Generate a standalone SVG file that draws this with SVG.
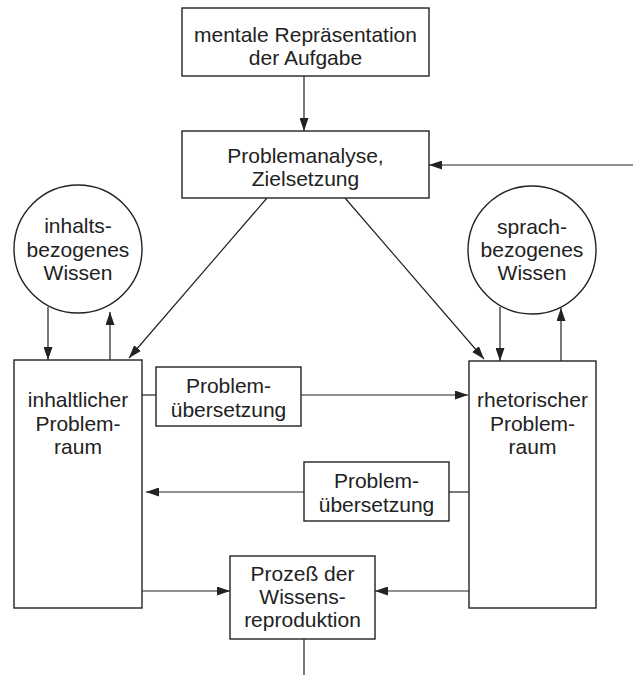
<svg xmlns="http://www.w3.org/2000/svg" width="633" height="675" viewBox="0 0 633 675">
  <style>
    .box { fill: #fff; stroke: #222; stroke-width: 1.4; }
    .lbl { font-family: "Liberation Sans", Arial, sans-serif; font-size: 21px; fill: #222; text-anchor: middle; }
    .edge { fill: none; stroke: #222; stroke-width: 1.2; }
  </style>
  <defs>
    <marker id="arrow" viewBox="0 0 13 9" refX="13" refY="4.5" markerWidth="13" markerHeight="9" markerUnits="userSpaceOnUse" orient="auto">
      <path d="M0,0 L13,4.5 L0,9 Z" fill="#222"/>
    </marker>
  </defs>
  <rect width="633" height="675" fill="#fff"/>

  <g id="connectors">
    <line class="edge" x1="304" y1="76" x2="304" y2="131" marker-end="url(#arrow)"/>
    <line class="edge" x1="633" y1="165" x2="429" y2="165" marker-end="url(#arrow)"/>
    <line class="edge" x1="267" y1="198" x2="129" y2="358" marker-end="url(#arrow)"/>
    <line class="edge" x1="345" y1="198" x2="484" y2="359" marker-end="url(#arrow)"/>
    <line class="edge" x1="48" y1="307" x2="48" y2="360" marker-end="url(#arrow)"/>
    <line class="edge" x1="110" y1="360" x2="110" y2="312" marker-end="url(#arrow)"/>
    <line class="edge" x1="500" y1="307" x2="500" y2="361" marker-end="url(#arrow)"/>
    <line class="edge" x1="561" y1="361" x2="561" y2="308" marker-end="url(#arrow)"/>
    <line class="edge" x1="142" y1="395" x2="156" y2="395"/>
    <line class="edge" x1="301" y1="395" x2="468" y2="395" marker-end="url(#arrow)"/>
    <line class="edge" x1="469" y1="492" x2="449" y2="492"/>
    <line class="edge" x1="304" y1="492" x2="146" y2="492" marker-end="url(#arrow)"/>
    <line class="edge" x1="142" y1="591" x2="230" y2="591" marker-end="url(#arrow)"/>
    <line class="edge" x1="469" y1="591" x2="375" y2="591" marker-end="url(#arrow)"/>
    <line class="edge" x1="304" y1="639" x2="304" y2="675"/>
  </g>

  <g id="mentale-repraesentation">
    <rect class="box" x="182" y="8" width="247" height="68"/>
    <text class="lbl" x="305.5" y="42">mentale Repräsentation</text>
    <text class="lbl" x="305.5" y="65">der Aufgabe</text>
  </g>

  <g id="problemanalyse">
    <rect class="box" x="182" y="131" width="247" height="67"/>
    <text class="lbl" x="305.5" y="163">Problemanalyse,</text>
    <text class="lbl" x="305.5" y="186">Zielsetzung</text>
  </g>

  <g id="inhaltsbezogenes-wissen">
    <circle class="box" cx="78" cy="249" r="64"/>
    <text class="lbl" x="78" y="233">inhalts-</text>
    <text class="lbl" x="78" y="257">bezogenes</text>
    <text class="lbl" x="78" y="280">Wissen</text>
  </g>

  <g id="sprachbezogenes-wissen">
    <circle class="box" cx="532" cy="250" r="64"/>
    <text class="lbl" x="532" y="234">sprach-</text>
    <text class="lbl" x="532" y="257">bezogenes</text>
    <text class="lbl" x="532" y="280">Wissen</text>
  </g>

  <g id="inhaltlicher-problemraum">
    <rect class="box" x="14" y="360" width="128" height="248"/>
    <text class="lbl" x="78" y="407">inhaltlicher</text>
    <text class="lbl" x="78" y="431">Problem-</text>
    <text class="lbl" x="78" y="454">raum</text>
  </g>

  <g id="rhetorischer-problemraum">
    <rect class="box" x="469" y="361" width="127" height="247"/>
    <text class="lbl" x="532.5" y="407">rhetorischer</text>
    <text class="lbl" x="532.5" y="431">Problem-</text>
    <text class="lbl" x="532.5" y="454">raum</text>
  </g>

  <g id="problemuebersetzung-1">
    <rect class="box" x="156" y="367" width="145" height="59"/>
    <text class="lbl" x="228.5" y="393">Problem-</text>
    <text class="lbl" x="228.5" y="417">übersetzung</text>
  </g>

  <g id="problemuebersetzung-2">
    <rect class="box" x="304" y="462" width="145" height="59"/>
    <text class="lbl" x="376.5" y="488">Problem-</text>
    <text class="lbl" x="376.5" y="512">übersetzung</text>
  </g>

  <g id="wissensreproduktion">
    <rect class="box" x="230" y="556" width="145" height="83"/>
    <text class="lbl" x="302.5" y="581">Prozeß der</text>
    <text class="lbl" x="302.5" y="604">Wissens-</text>
    <text class="lbl" x="302.5" y="627">reproduktion</text>
  </g>
</svg>
